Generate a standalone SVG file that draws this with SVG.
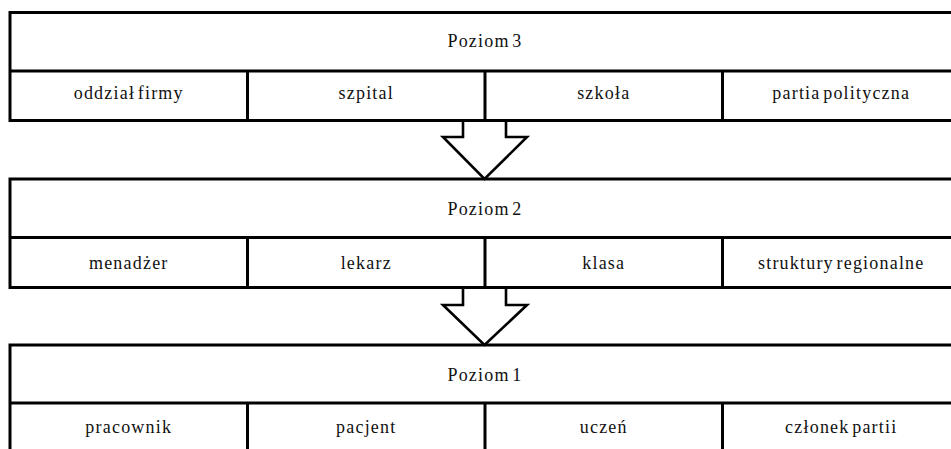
<svg xmlns="http://www.w3.org/2000/svg" width="951" height="449" viewBox="0 0 951 449">
<style>
.box{fill:#fff;stroke:#000;stroke-width:3}
.ln{stroke:#000;stroke-width:3;fill:none}
.arr{fill:#fff;stroke:#000;stroke-width:2.6;stroke-linejoin:miter}
.t{font-family:'Liberation Serif','DejaVu Serif',serif;font-size:18px;fill:#111;text-anchor:middle;letter-spacing:1.2px;word-spacing:-3px}
</style>
<rect width="951" height="449" fill="#fff"/>
<g id="level3">
<rect class="box" x="10" y="12.5" width="950" height="108"/>
<path class="ln" d="M10 71H960M247.5 71V120.5M485 71V120.5M722.5 71V120.5"/>
<g class="t" font-family="Liberation Serif, serif">
<text x="485" y="47">Poziom 3</text>
<text x="128.75" y="99">oddział firmy</text>
<text x="366.25" y="99">szpital</text>
<text x="603.75" y="99">szkoła</text>
<text x="841.25" y="99">partia polityczna</text>
</g>
</g>
<g id="level2">
<rect class="box" x="10" y="179" width="950" height="108.5"/>
<path class="ln" d="M10 237.5H960M247.5 237.5V287.5M485 237.5V287.5M722.5 237.5V287.5"/>
<g class="t" font-family="Liberation Serif, serif">
<text x="485" y="215">Poziom 2</text>
<text x="128.75" y="269">menadżer</text>
<text x="366.25" y="269">lekarz</text>
<text x="603.75" y="269">klasa</text>
<text x="841.25" y="269">struktury regionalne</text>
</g>
</g>
<g id="level1">
<rect class="box" x="10" y="345" width="950" height="110"/>
<path class="ln" d="M10 403H960M247.5 403V455M485 403V455M722.5 403V455"/>
<g class="t" font-family="Liberation Serif, serif">
<text x="485" y="381">Poziom 1</text>
<text x="128.75" y="433">pracownik</text>
<text x="366.25" y="433">pacjent</text>
<text x="603.75" y="433">uczeń</text>
<text x="841.25" y="433">członek partii</text>
</g>
</g>
<g id="connectors">
<path class="arr" d="M463 122V137H443L484.5 179L527 137H506V122"/>
<path class="arr" d="M463 289V305H443L484.5 345L527 305H506V289"/>
</g>
</svg>
